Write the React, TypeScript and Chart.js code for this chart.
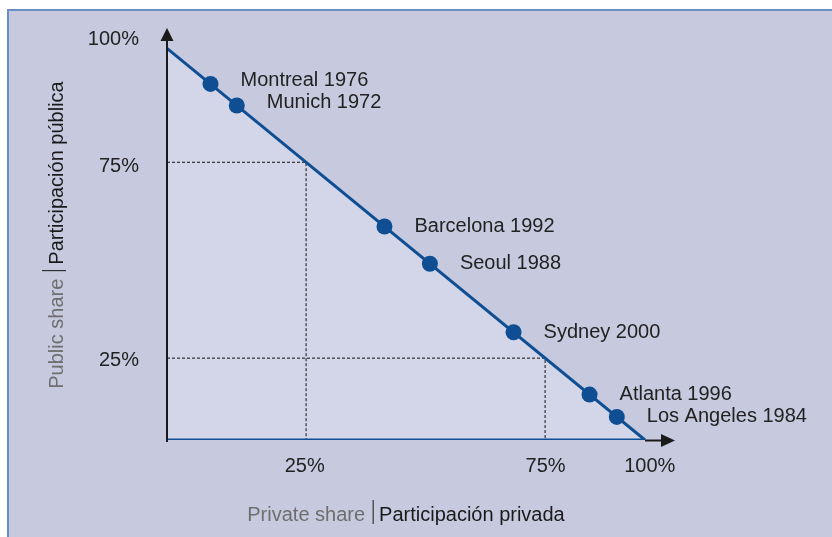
import React, { useEffect, useRef } from "react";
import { Chart, registerables } from "chart.js";

Chart.register(...registerables);

// ---- data ----
const cities = [
  "Montreal 1976",
  "Munich 1972",
  "Barcelona 1992",
  "Seoul 1988",
  "Sydney 2000",
  "Atlanta 1996",
  "Los Angeles 1984",
];
const privateShare = [9.1, 14.6, 45.5, 55.0, 72.5, 88.4, 94.1];
const publicShare = [90.9, 85.4, 54.5, 45.0, 27.5, 11.6, 5.9];

const frontierPrivate = [0, 100];
const frontierPublic = [100, 0];

const guidePrivate = [29.1, 79.1];
const guidePublic = [70.9, 20.9];

const xTickValues = [28.8, 79.2, 101.0];
const xTickLabels = ["25%", "75%", "100%"];
const yTickValues = [20.4, 69.9, 102.2];
const yTickLabels = ["25%", "75%", "100%"];

const xTitle = ["Private share", "Participación privada"];
const yTitle = ["Public share", "Participación pública"];

// ---- styles ----
const FONT = "'Liberation Sans', Arial, sans-serif";
const BLUE = "#0f4e93";
const TEXT = "#222222";
const GRAY = "#6e6e6e";
const BG = "rgb(199,202,223)";
const FILL = "rgb(211,214,233)";
const labelDy = [-3, -3, 0, 0, 0, 0, 0];

const backgroundPlugin = {
  id: "bgFrame",
  beforeDraw(chart: any) {
    const { ctx, width, height } = chart;
    ctx.save();
    ctx.fillStyle = "#ffffff";
    ctx.fillRect(0, 0, width, height);
    ctx.fillStyle = BG;
    ctx.fillRect(8, 9, width - 8, height - 9);
    ctx.fillStyle = "#6a8dc3";
    ctx.fillRect(7, 9, width - 7, 2);
    ctx.fillRect(7, 9, 2, height - 9);
    ctx.restore();
  },
};

function drawTitle(ctx: any, parts: string[], cx: number, baseY: number) {
  ctx.font = `20px ${FONT}`;
  ctx.textBaseline = "alphabetic";
  ctx.textAlign = "left";
  const w1 = ctx.measureText(parts[0]).width;
  const w2 = ctx.measureText(parts[1]).width;
  const g1 = 8;
  const g2 = 6;
  const total = w1 + g1 + g2 + w2;
  let x = cx - total / 2;
  ctx.fillStyle = GRAY;
  ctx.fillText(parts[0], x, baseY);
  x += w1 + g1;
  ctx.fillStyle = "#333333";
  ctx.fillRect(x - 0.5, baseY - 21, 1.2, 24);
  x += g2;
  ctx.fillStyle = "#1a1a1a";
  ctx.fillText(parts[1], x, baseY);
}

const overlayPlugin = {
  id: "overlay",
  afterDatasetsDraw(chart: any) {
    const { ctx } = chart;
    const xs = chart.scales.x;
    const ys = chart.scales.y;
    const ox = xs.getPixelForValue(0);
    const oy = ys.getPixelForValue(0);
    const endX = xs.getPixelForValue(100);
    ctx.save();
    // y axis
    ctx.strokeStyle = "#1a1a1a";
    ctx.fillStyle = "#1a1a1a";
    ctx.lineWidth = 2;
    ctx.beginPath();
    ctx.moveTo(ox, oy + 2);
    ctx.lineTo(ox, 40);
    ctx.stroke();
    ctx.beginPath();
    ctx.moveTo(ox - 6.5, 41);
    ctx.lineTo(ox + 6.5, 41);
    ctx.lineTo(ox, 28);
    ctx.closePath();
    ctx.fill();
    // x axis extension + arrow
    ctx.beginPath();
    ctx.moveTo(endX, oy + 0.5);
    ctx.lineTo(663, oy + 0.5);
    ctx.stroke();
    ctx.beginPath();
    ctx.moveTo(661, oy + 0.5 - 6.5);
    ctx.lineTo(661, oy + 0.5 + 6.5);
    ctx.lineTo(675, oy + 0.5);
    ctx.closePath();
    ctx.fill();

    // point labels
    const meta = chart.getDatasetMeta(4);
    ctx.font = `20px ${FONT}`;
    ctx.fillStyle = TEXT;
    ctx.textAlign = "left";
    ctx.textBaseline = "middle";
    meta.data.forEach((el: any, i: number) => {
      ctx.fillText(cities[i], el.x + 30, el.y + labelDy[i]);
    });

    // axis titles
    drawTitle(ctx, xTitle, xs.getPixelForValue(50), 521);
    ctx.translate(63, 235);
    ctx.rotate(-Math.PI / 2);
    drawTitle(ctx, yTitle, 0, 0);
    ctx.restore();
  },
};

export default function App() {
  const ref = useRef<HTMLCanvasElement | null>(null);

  useEffect(() => {
    if (!ref.current) return;
    const tickFont = { family: FONT, size: 20 };
    const guideStyle = {
      showLine: true,
      borderColor: "#111111",
      borderWidth: 1,
      borderDash: [3, 2],
      pointRadius: 0,
      fill: false,
      order: 3,
    };
    const chart = new Chart(ref.current, {
      type: "scatter",
      data: {
        datasets: [
          {
            data: frontierPrivate.map((x, i) => ({ x, y: frontierPublic[i] })),
            showLine: true,
            borderColor: BLUE,
            borderWidth: 3,
            backgroundColor: FILL,
            fill: "origin",
            pointRadius: 0,
            order: 1,
          } as any,
          {
            data: frontierPrivate.map((x) => ({ x, y: 0 })),
            showLine: true,
            borderColor: BLUE,
            borderWidth: 3,
            pointRadius: 0,
            fill: false,
            order: 2,
          } as any,
          {
            data: [
              { x: 0, y: guidePublic[0] },
              { x: guidePrivate[0], y: guidePublic[0] },
              { x: guidePrivate[0], y: 0 },
            ],
            ...guideStyle,
          } as any,
          {
            data: [
              { x: 0, y: guidePublic[1] },
              { x: guidePrivate[1], y: guidePublic[1] },
              { x: guidePrivate[1], y: 0 },
            ],
            ...guideStyle,
          } as any,
          {
            data: privateShare.map((x, i) => ({ x, y: publicShare[i] })),
            pointRadius: 8,
            pointBackgroundColor: BLUE,
            pointBorderColor: BLUE,
            pointBorderWidth: 0,
            showLine: false,
            order: 0,
          } as any,
        ],
      },
      options: {
        responsive: true,
        maintainAspectRatio: false,
        animation: false,
        events: [],
        layout: { padding: { left: 0, right: 139.2, top: 28.7, bottom: 0 } },
        plugins: {
          legend: { display: false },
          tooltip: { enabled: false },
          filler: { drawTime: "beforeDatasetsDraw" },
        } as any,
        scales: {
          x: {
            type: "linear",
            min: 0,
            max: 110,
            grid: { display: false, drawTicks: false },
            border: { display: false },
            ticks: {
              font: tickFont,
              color: TEXT,
              padding: 14,
              autoSkip: false,
              maxRotation: 0,
              callback: (_v: any, i: number) => xTickLabels[i],
            },
            afterBuildTicks: (s: any) => {
              s.ticks = xTickValues.map((value) => ({ value }));
            },
            afterFit: (s: any) => {
              s.height = 97;
              s.paddingLeft = 0;
              s.paddingRight = 0;
              s.paddingTop = 0;
              s.paddingBottom = 0;
            },
          },
          y: {
            type: "linear",
            min: 0,
            max: 105,
            grid: { display: false, drawTicks: false },
            border: { display: false },
            ticks: {
              font: tickFont,
              color: TEXT,
              padding: 28,
              autoSkip: false,
              callback: (_v: any, i: number) => yTickLabels[i],
            },
            afterBuildTicks: (s: any) => {
              s.ticks = yTickValues.map((value) => ({ value }));
            },
            afterFit: (s: any) => {
              s.width = 167;
              s.paddingLeft = 0;
              s.paddingRight = 0;
              s.paddingTop = 0;
              s.paddingBottom = 0;
            },
          },
        } as any,
      },
      plugins: [backgroundPlugin, overlayPlugin],
    });
    return () => chart.destroy();
  }, []);

  return (
    <div style={{ position: "fixed", left: 0, top: 0, width: 832, height: 537 }}>
      <canvas ref={ref} style={{ display: "block" }} />
    </div>
  );
}
